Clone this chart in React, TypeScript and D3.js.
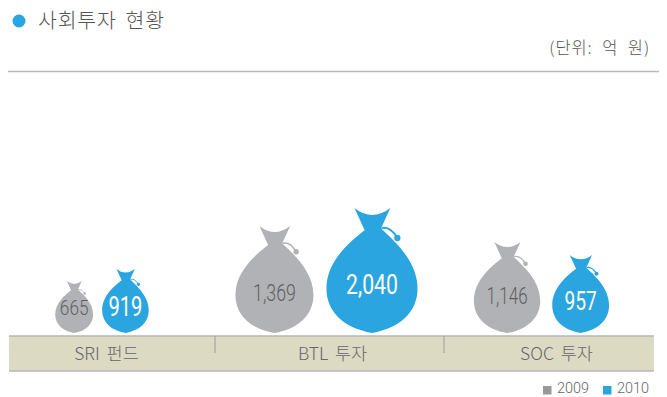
import React from "react";
import * as d3 from "d3";

const categories = ["SRI 펀드", "BTL 투자", "SOC 투자"];
const years = ["2009", "2010"];
const values2009 = [665, 1369, 1146];
const values2010 = [919, 2040, 957];

const W = 667, H = 397;
const BLUE = "#2aa5df", GRAY = "#b1b2b6", TEXT = "#666668";
const KR = "'Noto Sans CJK KR', 'Noto Sans', sans-serif";
const NUM = "Roboto, sans-serif";

// The source sizes its bags by eye, so height follows a piecewise scale of the value.
const sizeDomain = [665, 919, 957, 1146, 1369, 2040];
const heightScale = d3.scaleLinear().domain(sizeDomain).range([52, 64, 78, 91, 107, 125]);
const fontScale = d3.scaleLinear().domain(sizeDomain).range([21, 28, 26, 23, 24, 28]);
const squeezeScale = d3.scaleLinear().domain(sizeDomain).range([0.82, 0.72, 0.74, 0.74, 0.74, 0.76]);
const labelRise = d3.scaleLinear().domain(sizeDomain).range([0.49, 0.42, 0.41, 0.41, 0.38, 0.385]);
const groupCenter = d3.scaleOrdinal<string, number>().domain(categories).range([102, 326.5, 541.5]);
const groupGap = d3.scaleOrdinal<string, number>().domain(categories).range([9, 13, 12]);
const labelX = d3.scaleOrdinal<string, number>().domain(categories).range([106.5, 332.5, 556.5]);

const BASE = 333;
const TEMPLATE_W = 78, TEMPLATE_H = 107;

function bagPath(): string {
  const p = d3.path();
  p.moveTo(-15, 0);
  p.quadraticCurveTo(0, 12, 15.7, 0);
  p.lineTo(7.7, 17.5);
  p.bezierCurveTo(18, 27, 39, 45, 39, 69);
  p.bezierCurveTo(39, 89, 24, 103, 0, 107);
  p.bezierCurveTo(-24, 103, -39, 89, -39, 69);
  p.bezierCurveTo(-39, 45, -18, 28, -6.3, 19);
  p.closePath();
  return p.toString();
}
function stringPath(): string {
  const p = d3.path();
  p.moveTo(8, 17.2);
  p.quadraticCurveTo(16, 15.5, 21.7, 25.7);
  return p.toString();
}

function Bag({ cx, value, color, text, weight }: { cx: number; value: number; color: string; text: string; weight: number }) {
  const h = heightScale(value);
  const k = h / TEMPLATE_H;
  const y = BASE - h * labelRise(value);
  return (
    <g>
      <g transform={`translate(${cx},${BASE - h}) scale(${k})`}>
        <path d={bagPath()} fill={color} />
        <path d={stringPath()} fill="none" stroke={color} strokeWidth={1.6} />
        <circle cx={21.7} cy={25.7} r={2.7} fill={color} />
      </g>
      <g transform={`translate(${cx},${y}) scale(${squeezeScale(value)},1)`}>
        <text textAnchor="middle" dominantBaseline="central" fontFamily={NUM} fontWeight={weight}
          fontSize={fontScale(value)} fill={text}>{d3.format(",")(value)}</text>
      </g>
    </g>
  );
}

export default function App() {
  const bandTop = 336, bandBottom = 371, bandL = 9, bandR = 654;
  return (
    <svg width={W} height={H} style={{ position: "absolute", left: 0, top: 0, background: "#fff" }}>
      <circle cx={19} cy={21} r={6.5} fill={BLUE} />
      <text x={38} y={28} fontFamily={KR} fontWeight={300} fontSize={20.5} fill="#555" letterSpacing={0.8} wordSpacing={3.5}>사회투자 현황</text>
      <text x={650} y={54} textAnchor="end" fontFamily={KR} fontWeight={300} fontSize={16.5} fill="#555" letterSpacing={0.9} wordSpacing={5}>(단위: 억 원)</text>
      <line x1={8} x2={659} y1={71.5} y2={71.5} stroke="#b9b9b9" strokeWidth={1.3} />

      {categories.map((c, i) => {
        const wA = heightScale(values2009[i]) * TEMPLATE_W / TEMPLATE_H;
        const wB = heightScale(values2010[i]) * TEMPLATE_W / TEMPLATE_H;
        const total = wA + wB + groupGap(c);
        const left = groupCenter(c) - total / 2;
        return (
          <g key={c}>
            <Bag cx={left + wA / 2} value={values2009[i]} color={GRAY} text="#5f5f62" weight={300} />
            <Bag cx={left + wA + groupGap(c) + wB / 2} value={values2010[i]} color={BLUE} text="#fff" weight={400} />
          </g>
        );
      })}

      <rect x={bandL} y={bandTop} width={bandR - bandL} height={bandBottom - bandTop} fill="#dddac3" />
      <line x1={bandL} x2={bandR} y1={bandTop} y2={bandTop} stroke="#b6b6b4" strokeWidth={1.4} />
      <line x1={bandL} x2={bandR} y1={bandBottom} y2={bandBottom} stroke="#b6b6b4" strokeWidth={1.4} />
      {[215, 444].map((x) => (
        <line key={x} x1={x} x2={x} y1={bandTop} y2={353} stroke="#9b9b98" strokeWidth={1} />
      ))}
      {categories.map((c) => (
        <text key={c} x={labelX(c)} y={352.5} textAnchor="middle" dominantBaseline="central"
          fontFamily={KR} fontWeight={300} fontSize={17.5} wordSpacing={3} fill={TEXT}>{c}</text>
      ))}

      {years.map((yr, i) => {
        const x = 543 + i * 60;
        return (
          <g key={yr} transform={`translate(${x},0)`}>
            <rect x={0} y={386} width={8.5} height={8.5} fill={i === 0 ? "#99999c" : BLUE} />
            <text x={14} y={393.2} fontFamily={NUM} fontWeight={300} fontSize={15} textLength={32} lengthAdjust="spacingAndGlyphs" fill={TEXT}>{yr}</text>
          </g>
        );
      })}
    </svg>
  );
}
